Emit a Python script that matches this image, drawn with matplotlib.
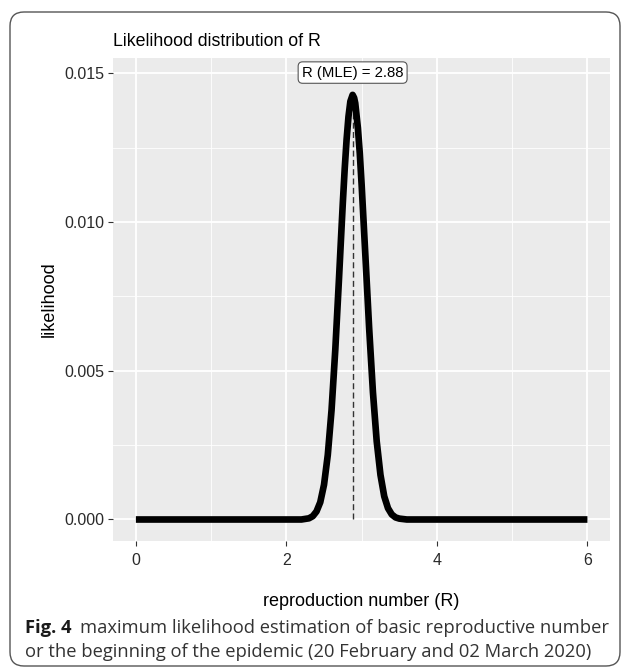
import matplotlib
matplotlib.use("Agg")
import matplotlib.pyplot as plt
from matplotlib.patches import FancyBboxPatch

plt.rcParams['font.family'] = ['Liberation Sans', 'DejaVu Sans']

# likelihood curve
r_values = [0.0, 0.5, 1.0, 1.5, 2.0, 2.2, 2.3, 2.35, 2.4, 2.45, 2.5, 2.55, 2.6,
            2.65, 2.7, 2.725, 2.75, 2.775, 2.8, 2.825, 2.85, 2.88, 2.9, 2.915,
            2.95, 2.975, 3.0, 3.05, 3.1, 3.15, 3.2, 3.25, 3.3, 3.35, 3.4, 3.45,
            3.5, 3.6, 4.0, 5.0, 6.0]
likelihood = [0.0, 0.0, 0.0, 0.0, 0.0, 0.0, 0.00004, 0.00011, 0.00027, 0.00058,
              0.00117, 0.00217, 0.00368, 0.00572, 0.00815, 0.00942, 0.01066,
              0.0118, 0.01278, 0.01355, 0.01406, 0.01428, 0.01418, 0.01400,
              0.01317, 0.01232, 0.01125, 0.00885, 0.00642, 0.00428, 0.00263,
              0.0015, 0.00078, 0.00038, 0.00017, 0.00007, 0.00003, 0.0, 0.0,
              0.0, 0.0]
r_mle = 2.88
mle_label = "R (MLE) = 2.88"

x_ticks = [0, 2, 4, 6]
x_minor = [1, 3, 5]
y_ticks = [0.0, 0.005, 0.010, 0.015]
y_minor = [0.0025, 0.0075, 0.0125]
y_ticklabels = ["0.000", "0.005", "0.010", "0.015"]

W, H = 629, 668
fig = plt.figure(figsize=(W / 100, H / 100), dpi=100)

# frame of the figure, in pixel units
bg = fig.add_axes([0, 0, 1, 1], zorder=-1)
bg.set_xlim(0, W)
bg.set_ylim(H, 0)
bg.axis('off')
bg.add_patch(FancyBboxPatch((10, 12), 610, 654, boxstyle="round,pad=0,rounding_size=14",
                            fc='white', ec='#555555', lw=1.0))

# plot panel
px0, px1, py0, py1 = 113.3, 610, 58, 540.7
ax = fig.add_axes([px0 / W, 1 - py1 / H, (px1 - px0) / W, (py1 - py0) / H])
ax.set_facecolor('#EBEBEB')
for s in ax.spines.values():
    s.set_visible(False)

for v in x_minor:
    ax.axvline(v, color='white', lw=0.6, zorder=0)
for v in y_minor:
    ax.axhline(v, color='white', lw=0.6, zorder=0)
for v in x_ticks:
    ax.axvline(v, color='white', lw=1.3, zorder=0)
for v in y_ticks:
    ax.axhline(v, color='white', lw=1.3, zorder=0)

ax.plot([r_mle, r_mle], [0, max(likelihood)], color='#333333', lw=1.0,
        dashes=(4.3, 2.4), zorder=2)
ax.plot(r_values, likelihood, color='black', lw=4.8, solid_capstyle='butt',
        solid_joinstyle='round', zorder=3)

ax.text(r_mle, 0.01503, mle_label, ha='center', va='center', fontsize=10.7,
        bbox=dict(boxstyle='round,pad=0.25,rounding_size=0.3', fc='white',
                  ec='#555555', lw=0.8), zorder=4)

ax.set_xlim(-0.3, 6.3)
ax.set_ylim(-0.000713, 0.01552)
ax.set_xticks(x_ticks)
ax.set_xticklabels([str(t) for t in x_ticks])
ax.set_yticks(y_ticks)
ax.set_yticklabels(y_ticklabels)
ax.tick_params(length=3.6, width=0.8, color='#333333', labelsize=11.5,
               labelcolor='#2a2a2a', pad=2.5)
ax.tick_params(axis='x', pad=5.5)

ax.set_xlabel("reproduction number (R)", fontsize=13, labelpad=18)
ax.set_ylabel("likelihood", fontsize=13, labelpad=5)
ax.set_title("Likelihood distribution of R", fontsize=12.8, loc='left', pad=9)

# caption
cap_font = ['Open Sans', 'DejaVu Sans']
fig.canvas.draw()
renderer = fig.canvas.get_renderer()
t1 = bg.text(25, 628, "Fig. 4", fontsize=13.2, fontweight='bold', family=cap_font,
             va='center', ha='left', color='#1a1a1a')
bb = t1.get_window_extent(renderer)
x_after = bb.x1 + 8
bg.text(x_after, 628, "maximum likelihood estimation of basic reproductive number",
        fontsize=13.2, family=cap_font, va='center', ha='left', color='#333333')
bg.text(25, 652, "or the beginning of the epidemic (20 February and 02 March 2020)",
        fontsize=13.2, family=cap_font, va='center', ha='left', color='#333333')

fig.savefig("out.png", dpi=100)
